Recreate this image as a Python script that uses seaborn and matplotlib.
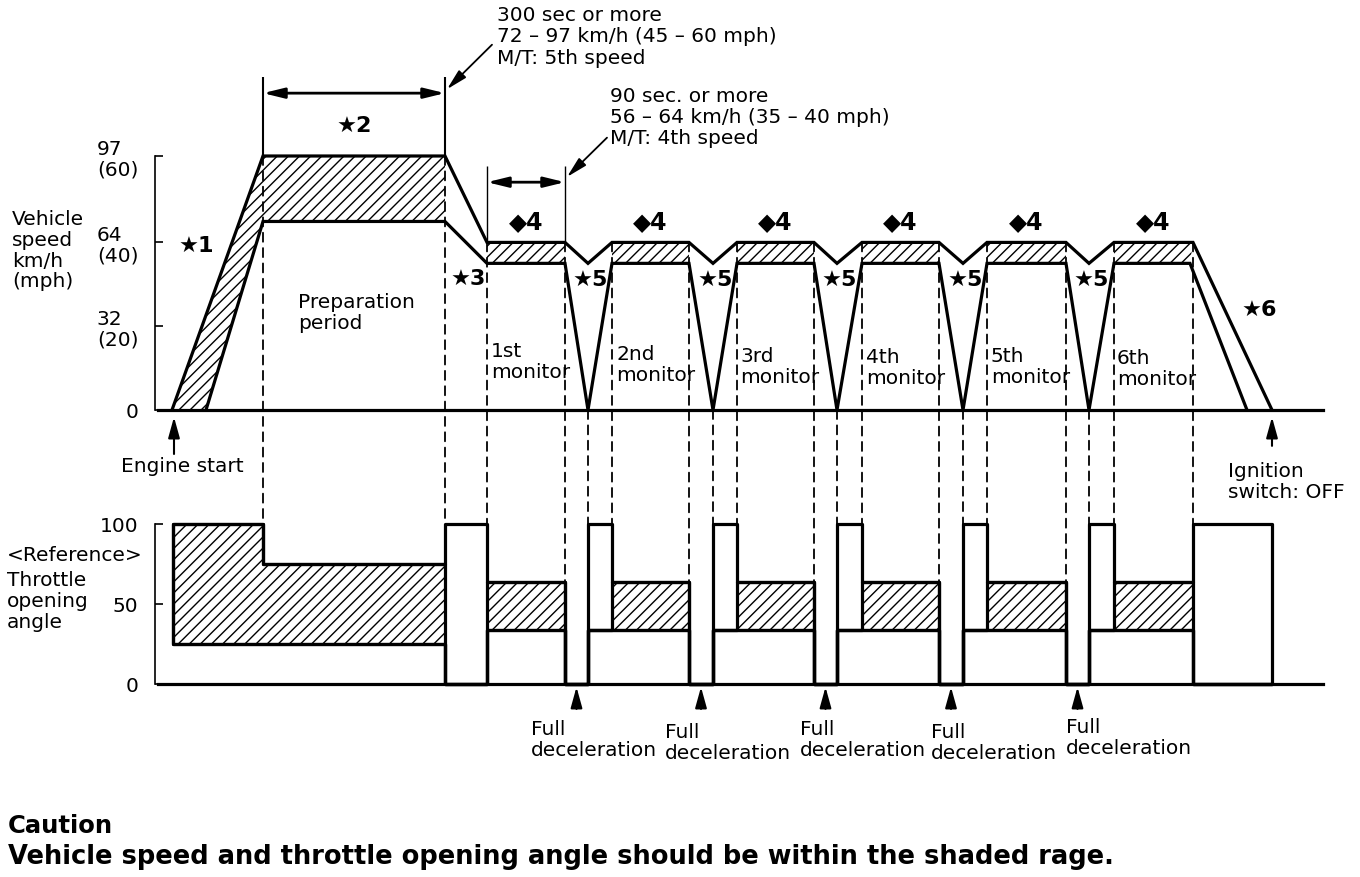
import matplotlib
matplotlib.use('Agg')
import matplotlib.pyplot as plt
from matplotlib.patches import ConnectionPatch
import seaborn as sns

# speed profile (km/h) - time axis is schematic, same breakpoints for both charts
hi_t = [172, 263, 445, 487, 565, 588, 612, 689, 713, 737, 814, 837, 862, 939, 963, 987, 1066, 1089, 1114, 1193, 1272]
hi_v = [0, 97, 97, 64, 64, 56, 64, 64, 56, 64, 64, 56, 64, 64, 56, 64, 64, 56, 64, 64, 0]
lo_t = [206, 263, 445, 487, 565, 588, 612, 689, 713, 737, 814, 837, 862, 939, 963, 987, 1066, 1089, 1114, 1190, 1247]
lo_v = [0, 72, 72, 56, 56, 0, 56, 56, 0, 56, 56, 0, 56, 56, 0, 56, 56, 0, 56, 56, 0]

# throttle opening angle (%), step profile
thr_t = [173, 263, 445, 487, 565, 588, 612, 689, 713, 737, 814, 837, 862, 939, 963, 987, 1066, 1089, 1114, 1193, 1272]
thr_top = [100, 75, 100, 64, 0, 100, 64, 0, 100, 64, 0, 100, 64, 0, 100, 64, 0, 100, 64, 100, 0]
thr_low = [25, 25, 0, 34, 0, 34, 34, 0, 34, 34, 0, 34, 34, 0, 34, 34, 0, 34, 34, 0, 0]
thr_hatched = [1, 1, 0, 1, 0, 0, 1, 0, 0, 1, 0, 0, 1, 0, 0, 1, 0, 0, 1, 0, 0]

spd_ticks = [0, 32, 64, 97]
spd_labels = ['0', '32\n(20)', '64\n(40)', '97\n(60)']
thr_ticks = [0, 50, 100]
thr_labels = ['0', '50', '100']

monitor_labels = ['1st\nmonitor', '2nd\nmonitor', '3rd\nmonitor', '4th\nmonitor', '5th\nmonitor', '6th\nmonitor']

sns.set_style('white')
plt.rcParams['font.family'] = ['DejaVu Sans']
plt.rcParams['text.color'] = 'black'
plt.rcParams['hatch.linewidth'] = 1.0

W, H = 1360, 878
FS = 14.5
LW = 2.3
fig = plt.figure(figsize=(13.6, 8.78), dpi=100)


def box(left, top, right, bottom):
    return [left / W, 1 - bottom / H, (right - left) / W, (bottom - top) / H]


def px(x, y):
    return x / W, 1 - y / H


ax_s = fig.add_axes(box(0, 157, W, 411))
ax_t = fig.add_axes(box(0, 525, W, 685))
ax_s.patch.set_alpha(0)
ax_t.patch.set_alpha(0)

for ax, top, ticks, labels in [(ax_s, 97, spd_ticks, spd_labels), (ax_t, 100, thr_ticks, thr_labels)]:
    ax.set_xlim(0, W)
    ax.set_ylim(0, top)
    ax.spines['top'].set_visible(False)
    ax.spines['right'].set_visible(False)
    ax.spines['left'].set_position(('data', 155))
    ax.spines['left'].set_bounds(0, top)
    ax.spines['left'].set_linewidth(1.2)
    ax.spines['bottom'].set_bounds(158, 1323)
    ax.spines['bottom'].set_linewidth(LW)
    ax.spines['bottom'].set_color('black')
    ax.spines['left'].set_color('black')
    ax.set_xticks([])
    ax.set_yticks(ticks)
    ax.set_yticklabels(labels)
    ax.tick_params(axis='y', direction='in', length=6, width=1.2, pad=12,
                   labelsize=FS, colors='black', left=True)
    for lbl in ax.get_yticklabels():
        lbl.set_multialignment('left')
        lbl.set_linespacing(1.1)

# ---- speed chart ----
polys = [(0, 3)] + [(i, i + 2) for i in range(3, 20, 3)]
for a, b in polys:
    xs = hi_t[a:b] + lo_t[a:b][::-1]
    ys = hi_v[a:b] + lo_v[a:b][::-1]
    ax_s.fill(xs, ys, facecolor='white', edgecolor='black', hatch='///', lw=0, clip_on=False)

sns.lineplot(x=hi_t, y=hi_v, ax=ax_s, color='black', lw=LW, sort=False, estimator=None)
sns.lineplot(x=lo_t, y=lo_v, ax=ax_s, color='black', lw=LW, sort=False, estimator=None)
for ln in ax_s.lines:
    ln.set_clip_on(False)
    ln.set_solid_joinstyle('miter')

# dimension lines
ax_s.vlines([hi_t[1], hi_t[2]], 97, 127, color='black', lw=1.5, clip_on=False)
ax_s.vlines([hi_t[3], hi_t[4]], 64, 93, color='black', lw=1.0, clip_on=False)
dim = dict(arrowstyle='<|-|>,head_length=0.9,head_width=0.22', color='black', lw=2,
           shrinkA=0, shrinkB=0, mutation_scale=14)
ax_s.annotate('', xy=(hi_t[1], 121), xytext=(hi_t[2], 121), arrowprops=dim, annotation_clip=False)
ax_s.annotate('', xy=(hi_t[3], 87), xytext=(hi_t[4], 87), arrowprops=dim, annotation_clip=False)
lead = dict(arrowstyle='-|>,head_length=0.9,head_width=0.22', color='black', lw=1.3,
            shrinkA=0, shrinkB=0, mutation_scale=14)
ax_s.annotate('', xy=(hi_t[2] + 2, 122.5), xytext=(492, 139.5), arrowprops=lead, annotation_clip=False)
ax_s.annotate('', xy=(hi_t[4] + 2, 89), xytext=(607, 104), arrowprops=lead, annotation_clip=False)

# band / dip labels
for i in range(3, 20, 3):
    ax_s.text((hi_t[i] + hi_t[i + 1]) / 2, 72, '◆4', ha='center', va='center',
              fontsize=17, fontweight='bold')
for i in range(5, 18, 3):
    ax_s.text(hi_t[i] + 2, 50, '★5', ha='center', va='center', fontsize=16, fontweight='bold')
ax_s.text(196, 63, '★1', ha='center', va='center', fontsize=16, fontweight='bold')
ax_s.text(354, 109, '★2', ha='center', va='center', fontsize=16, fontweight='bold')
ax_s.text(468, 50.5, '★3', ha='center', va='center', fontsize=16, fontweight='bold')
ax_s.text(1259, 38.5, '★6', ha='center', va='center', fontsize=16, fontweight='bold')

# ---- throttle chart ----
hatch_top = [t if h else l for t, l, h in zip(thr_top, thr_low, thr_hatched)]
ax_t.fill_between(thr_t, thr_low, hatch_top, step='post', facecolor='white',
                  edgecolor='black', hatch='///', lw=LW, clip_on=False)
ax_t.fill_between(thr_t, thr_low, thr_top, step='post', facecolor='none',
                  edgecolor='black', lw=LW, clip_on=False)

# dashed guides joining the two charts
for i in range(1, len(thr_t) - 1):
    y0 = hi_v[i] if lo_v[i] > 0 else lo_v[i]
    cp = ConnectionPatch(xyA=(thr_t[i], y0), coordsA=ax_s.transData,
                         xyB=(thr_t[i], max(thr_top[i - 1], thr_top[i])), coordsB=ax_t.transData,
                         ls=(0, (5, 3.5)), lw=1.3, color='black')
    fig.add_artist(cp)

# event arrows
up = dict(arrowstyle='-|>,head_length=0.9,head_width=0.25', color='black', lw=1.5,
          shrinkA=0, shrinkB=0, mutation_scale=14)
ax_s.annotate('', xy=(hi_t[0] + 2, -2.7), xytext=(hi_t[0] + 2, -16.8), arrowprops=up, annotation_clip=False)
ax_s.annotate('', xy=(hi_t[-1], -2.7), xytext=(hi_t[-1], -13.7), arrowprops=up, annotation_clip=False)
dec_x = [(thr_t[i] + thr_t[i + 1]) / 2 for i in range(len(thr_t) - 1) if thr_top[i] == 0]
for x in dec_x:
    ax_t.annotate('', xy=(x, -1.9), xytext=(x, -15.6), arrowprops=up, annotation_clip=False)

# ---- free text ----
def txt(x, y, s, **kw):
    kw.setdefault('fontsize', FS)
    kw.setdefault('va', 'top')
    kw.setdefault('ha', 'left')
    kw.setdefault('linespacing', 1.15)
    kw.setdefault('color', 'black')
    fig.text(*px(x, y), s, **kw)


txt(497, 6, '300 sec or more\n72 – 97 km/h (45 – 60 mph)\nM/T: 5th speed')
txt(610, 87, '90 sec. or more\n56 – 64 km/h (35 – 40 mph)\nM/T: 4th speed')
txt(12, 210, 'Vehicle\nspeed\nkm/h\n(mph)', linespacing=1.12)
txt(7, 546, '<Reference>')
txt(7, 571, 'Throttle\nopening\nangle', linespacing=1.12)
txt(298, 293, 'Preparation\nperiod')
mon_x = [491, 616, 740, 866, 991, 1117]
mon_y = [342, 345, 347, 348, 347, 349]
for x, y, s in zip(mon_x, mon_y, monitor_labels):
    txt(x, y, s)
txt(121, 467, 'Engine start', va='center')
txt(1228, 462, 'Ignition\nswitch: OFF')
dec_tx = [531, 665, 800, 931, 1066]
dec_ty = [720, 723, 720, 723, 718]
for x, y in zip(dec_tx, dec_ty):
    txt(x, y, 'Full\ndeceleration')
txt(8, 826, 'Caution', va='center', fontweight='bold', fontsize=17.5)
txt(8, 857, 'Vehicle speed and throttle opening angle should be within the shaded rage.',
    va='center', fontweight='bold', fontsize=18.5)

fig.savefig('out.png', dpi=100)
